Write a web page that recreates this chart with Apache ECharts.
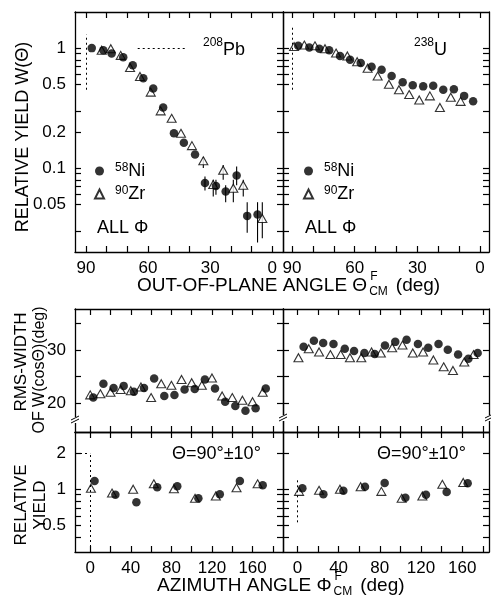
<!DOCTYPE html>
<html><head><meta charset="utf-8">
<script src="https://cdn.jsdelivr.net/npm/echarts@6/dist/echarts.min.js"></script>
<style>html,body{margin:0;padding:0;background:#fff}#c{width:491px;height:603px}</style>
</head><body><div id="c"></div>
<script>
// ---------- DATA ----------
// Top-left (208Pb): out-of-plane angle theta (deg) vs relative yield W
const thetaNiPb = [87.2,81.6,77.6,72.0,67.4,62.3,57.5,52.7,47.5,42.7,37.3,32.5,27.2,22.5,17.2,12.1,7.1];
const yieldNiPb = [1.00,0.96,0.90,0.84,0.72,0.56,0.46,0.32,0.195,0.163,0.13,0.075,0.071,0.064,0.087,0.040,0.041];
const errLoNiPb = [null,null,null,null,null,null,null,null,null,null,null,0.065,0.060,0.052,0.072,0.029,0.024];
const errHiNiPb = [null,null,null,null,null,null,null,null,null,null,null,0.085,0.080,0.072,0.103,0.052,0.052];
const thetaZrPb = [82.4,78.0,73.2,68.7,63.9,58.7,53.9,48.6,44.1,38.8,33.3,28.5,23.7,18.8,14.0,4.8];
const yieldZrPb = [0.96,0.99,0.87,0.69,0.58,0.43,0.30,0.26,0.195,0.154,0.115,0.073,0.096,0.068,0.072,0.038];
const errLoZrPb = [null,null,null,null,null,null,null,null,null,null,0.100,0.058,0.080,0.052,0.058,0.026];
const errHiZrPb = [null,null,null,null,null,null,null,null,null,null,0.124,0.080,0.106,0.080,0.080,0.052];
// Top-right (238U)
const thetaNiU = [87.0,81.7,76.9,72.2,67.0,62.2,57.1,51.9,47.1,42.3,37.0,32.2,27.2,22.4,17.6,12.5,7.6,3.3];
const yieldNiU = [1.045,1.01,0.99,0.96,0.86,0.80,0.75,0.70,0.66,0.585,0.52,0.49,0.48,0.485,0.45,0.455,0.40,0.36];
const thetaZrU = [89.0,84.1,79.0,74.2,68.9,63.5,58.8,53.8,49.0,43.6,38.8,33.9,29.1,24.0,19.2,14.0,9.3];
const yieldZrU = [1.03,1.06,1.045,0.99,0.91,0.86,0.77,0.68,0.585,0.50,0.45,0.41,0.37,0.40,0.32,0.39,0.36];
// Middle-left (208Pb): azimuth phi (deg) vs RMS width (deg)
const phiZrRmsPb = [0,10,20,30,40,50,60,70,80,90,100,110,120,130,140,150,160,170];
const rmsZrPb    = [21.5,21.7,22.0,22.5,22.3,23.0,21.0,23.6,23.3,24.4,23.8,23.3,24.7,21.3,21.0,20.5,20.2,22.0];
const phiNiRmsPb = [3,13,23,33,43,53,63,73,83,93,103,113,123,133,143,153,163,173];
const rmsNiPb    = [21.0,23.6,22.8,23.2,22.1,22.8,24.6,21.3,21.5,22.5,22.6,24.4,22.7,20.2,19.4,18.5,19.0,22.7];
// Middle-right (238U)
const phiZrRmsU = [1,11,21,32,42,51,62,72,81,92,102,112,122,132,142,151,162,171];
const rmsZrU    = [28.5,30.2,29.6,29.1,29.1,28.5,28.5,29.6,29.4,30.4,30.9,29.4,29.6,28.1,26.8,26.1,27.7,29.1];
const phiNiRmsU = [6,16,25,35,46,55,65,75,85,95,106,117,127,137,146,156,166,175];
const rmsNiU    = [30.6,31.7,31.3,31.1,30.2,29.8,29.4,29.2,30.8,31.5,31.9,31.1,30.4,31.1,30.0,29.1,28.3,29.4];
// Bottom-left (208Pb): azimuth phi vs relative yield, theta = 90 +- 10
const phiZrYPb = [0.7,21.5,42.3,62.7,82.5,103.3,123.8,144.2,165.0];
const relZrPb  = [1.02,0.93,1.00,1.11,1.01,0.84,0.88,1.03,1.11];
const phiNiYPb = [4.3,24.8,45.5,66.0,85.8,106.6,127.7,147.5,170.0];
const relNiPb  = [1.17,0.90,0.78,1.04,1.06,0.84,0.91,1.17,1.08];
// Bottom-right (238U)
const phiZrYU = [1.6,21.0,41.3,61.4,81.5,101.2,121.3,140.7,161.0];
const relZrU  = [0.96,0.98,1.00,1.05,0.96,0.84,0.88,1.10,1.14];
const phiNiYU = [4.8,25.2,44.6,65.6,84.7,104.8,124.8,144.9,165.3];
const relNiU  = [1.02,0.91,0.97,1.05,1.13,0.85,0.90,0.95,1.12];
// Axis ticks / labels
const thetaTicks = [0,10,20,30,40,50,60,70,80,90];
const thetaLabels = [0,30,60,90];
const yieldTicksTop = [0.03,0.05,0.06,0.07,0.08,0.09,0.1,0.2,0.3,0.5,0.6,0.7,0.8,0.9,1];
const yieldLabelsTop = [0.05,0.1,0.2,0.5,1];
const phiTicks = [0,20,40,60,80,100,120,140,160,180];
const phiLabels = [0,40,80,120,160];
const rmsTicks = [20,25,30,35];
const rmsLabels = [20,30];
const relTicks = [0.4,0.5,0.6,0.7,0.8,0.9,1,2];
const relLabels = [0.5,1,2];
// Dotted reference guides
const guidePbVert = [[90,0.45],[90,1.3]];
const guidePbHoriz = [[65,1],[41,1]];
const guideUVert = [[90,0.45],[90,1.5]];
const guidePbPhiVert = [[0,0.3],[0,2]];
const guidePbPhiHoriz = [[-15,2],[0,2]];
const guideUPhiVert = [[0,0.53],[0,1.25]];

// ---------- CHART ----------
const FONT = 'Liberation Sans';
const chart = echarts.init(document.getElementById('c'), null, {renderer:'canvas'});
const mctx = document.createElement('canvas').getContext('2d');
function textW(s, font){ mctx.font = font; return mctx.measureText(s).width; }

const grids = [
  {left:75, top:12, width:208, height:240},
  {left:283, top:12, width:206, height:240},
  {left:75, top:309, width:208, height:123},
  {left:283, top:309, width:206, height:123},
  {left:75, top:432, width:208, height:120},
  {left:283, top:432, width:206, height:120}
];
const xRanges = [[-5.2,95.3],[-4.3,94.3],[-15,190],[-14,186],[-15,190],[-14,186]];

const lineStyle = {color:'#000', width:1.3};
function fmtNum(v){ return String(Number(Number(v).toPrecision(3))); }

const xAxes = [], yAxes = [];
for (let g=0; g<6; g++){
  const top = g<2;
  const mid = g===2||g===3;
  const isLeft = g%2===0;
  const ticks = top ? thetaTicks : phiTicks;
  const labels = top ? thetaLabels : phiLabels;
  const showXLabel = top || g>=4;
  ['bottom','top'].forEach((pos,k)=>{
    xAxes.push({
      type:'value', gridIndex:g, position:pos, inverse:top,
      min:xRanges[g][0], max:xRanges[g][1],
      axisLine:{show:true, lineStyle, onZero:false},
      axisTick:{show:true, inside:true, length:6, lineStyle:{color:'#000',width:1.2}, customValues:ticks},
      axisLabel:{show:(k===0 && showXLabel), customValues:labels, color:'#000', fontSize:17, fontFamily:FONT, margin:8, formatter:fmtNum},
      splitLine:{show:false}
    });
  });
  let yType, yMin, yMax, yT, yL;
  if (top){ yType='log'; yMin=0.02; yMax=2; yT=yieldTicksTop; yL=yieldLabelsTop; }
  else if (mid){ yType='value'; yMin=14.5; yMax=37.7; yT=rmsTicks; yL=rmsLabels; }
  else { yType='log'; yMin=0.3; yMax=3; yT=relTicks; yL=relLabels; }
  ['left','right'].forEach((pos,k)=>{
    const a = {
      type:yType, gridIndex:g, position:pos, min:yMin, max:yMax,
      axisLine:{show:true, lineStyle, onZero:false},
      axisTick:{show:true, inside:true, length:6, lineStyle:{color:'#000',width:1.2}, customValues:yT},
      axisLabel:{show:(k===0 && isLeft), customValues:yL, color:'#000', fontSize:17, fontFamily:FONT, margin:9, formatter:fmtNum},
      splitLine:{show:false}
    };
    if (yType==='log') a.logBase = 10;
    yAxes.push(a);
  });
}

const NI = '58Ni', ZR = '90Zr';
function zip(a,b){ return a.map((v,i)=>[v,b[i]]); }
function ni(g, xs, ys){
  return {type:'scatter', name:NI, xAxisIndex:2*g, yAxisIndex:2*g, symbol:'circle', symbolSize:8.5,
    itemStyle:{color:'#000'}, data:zip(xs,ys), z:5};
}
function zr(g, xs, ys){
  return {type:'scatter', name:ZR, xAxisIndex:2*g, yAxisIndex:2*g, symbol:'triangle', symbolSize:[9,8],
    itemStyle:{color:'#fff', borderColor:'#000', borderWidth:1.1}, data:zip(xs,ys), z:4};
}
function errs(g, xs, lo, hi){
  const d = [];
  xs.forEach((x,i)=>{ if (lo[i]!=null) d.push([x, lo[i], hi[i]]); });
  return {type:'custom', xAxisIndex:2*g, yAxisIndex:2*g, z:3, silent:true,
    encode:{x:0, y:[1,2]}, data:d,
    renderItem:(params, api)=>{
      const p1 = api.coord([api.value(0), api.value(1)]);
      const p2 = api.coord([api.value(0), api.value(2)]);
      return {type:'line', shape:{x1:p1[0],y1:p1[1],x2:p2[0],y2:p2[1]}, style:{stroke:'#000', lineWidth:1.1}};
    }};
}
function guides(g, segs){
  return {type:'line', xAxisIndex:2*g, yAxisIndex:2*g, data:[], silent:true,
    markLine:{silent:true, symbol:'none', label:{show:false},
      lineStyle:{type:[2,3], color:'#000', width:1}, data:segs.map(s=>[{coord:s[0]},{coord:s[1]}])}};
}

const series = [
  guides(0, [guidePbVert, guidePbHoriz]),
  guides(1, [guideUVert]),
  guides(4, [guidePbPhiVert, guidePbPhiHoriz]),
  guides(5, [guideUPhiVert]),
  errs(0, thetaNiPb, errLoNiPb, errHiNiPb),
  errs(0, thetaZrPb, errLoZrPb, errHiZrPb),
  ni(0, thetaNiPb, yieldNiPb), zr(0, thetaZrPb, yieldZrPb),
  ni(1, thetaNiU, yieldNiU), zr(1, thetaZrU, yieldZrU),
  ni(2, phiNiRmsPb, rmsNiPb), zr(2, phiZrRmsPb, rmsZrPb),
  ni(3, phiNiRmsU, rmsNiU), zr(3, phiZrRmsU, rmsZrU),
  ni(4, phiNiYPb, relNiPb), zr(4, phiZrYPb, relZrPb),
  ni(5, phiNiYU, relNiU), zr(5, phiZrYU, relZrU)
];

const legendRich = {
  s:{fontSize:12, fontFamily:FONT, color:'#000', lineHeight:12, verticalAlign:'top', padding:[0,0,0,6]},
  n:{fontSize:18, fontFamily:FONT, color:'#000', lineHeight:18, verticalAlign:'bottom', padding:[5,0,0,0]}
};
function legendAt(left){
  return {left:left, top:157, padding:0, orient:'vertical', itemGap:0, itemWidth:9, itemHeight:9,
    selectedMode:false, data:[{name:NI, icon:'circle'},{name:ZR, icon:'triangle'}],
    formatter:(n)=>'{s|'+n.slice(0,2)+'}{n|'+n.slice(2)+'}', textStyle:{rich:legendRich}};
}

function txt(x,y,text,opt){
  return {type:'text', x:x, y:y, silent:true,
    style:Object.assign({text:text, fill:'#000', font:'17px '+FONT, textAlign:'left', textVerticalAlign:'middle'}, opt||{})};
}
function vtxt(x,y,text,size){
  return {type:'text', x:x, y:y, rotation:Math.PI/2, silent:true,
    style:{text:text, fill:'#000', font:size+'px '+FONT, textAlign:'center', textVerticalAlign:'middle'}};
}
function breakMark(x,y){
  return [
    {type:'rect', shape:{x:x-4,y:y-3,width:8,height:6}, style:{fill:'#fff'}, silent:true, z:100},
    {type:'line', shape:{x1:x-4,y1:y,x2:x+4,y2:y-4}, style:{stroke:'#000',lineWidth:1}, silent:true, z:101},
    {type:'line', shape:{x1:x-4,y1:y+3,x2:x+4,y2:y-1}, style:{stroke:'#000',lineWidth:1}, silent:true, z:101}
  ];
}
// axis title with stacked F / CM after the greek letter
function axisTitle(x, y, main){
  const f = '19px '+FONT;
  const end = x + textW(main, f);
  const cmW = textW('CM', '12px '+FONT);
  return [
    txt(x, y, main, {font:f}),
    txt(end+3, y-9, 'F', {font:'12px '+FONT}),
    txt(end+2, y+6, 'CM', {font:'12px '+FONT}),
    txt(end+2+cmW+8, y, '(deg)', {font:f})
  ];
}

const richSup = {s:{font:'12px '+FONT, padding:[0,0,8,0]}, n:{font:'18px '+FONT, padding:[6,0,0,0]}};
const graphic = [].concat(
  [
    txt(203,47,'{s|208}{n|Pb}',{rich:richSup}),
    txt(414,47,'{s|238}{n|U}',{rich:richSup}),
    txt(97,228,'ALL Φ',{font:'18px '+FONT}),
    txt(305,228,'ALL Φ',{font:'18px '+FONT}),
    txt(172,454,'Θ=90°±10°',{font:'18px '+FONT}),
    txt(377,454,'Θ=90°±10°',{font:'18px '+FONT}),
    vtxt(23,137,'RELATIVE YIELD W(Θ)',18),
    vtxt(21,362,'RMS-WIDTH',17),
    vtxt(40,370,'OF W(cosΘ)(deg)',16),
    vtxt(21,505,'RELATIVE',17),
    vtxt(40,505,'YIELD',17)
  ],
  axisTitle(137, 286, 'OUT-OF-PLANE ANGLE Θ'),
  axisTitle(157, 586, 'AZIMUTH ANGLE Φ'),
  breakMark(75,420), breakMark(283,418), breakMark(489,418)
);

chart.setOption({
  backgroundColor:'#fff',
  animation:false,
  grid:grids,
  xAxis:xAxes,
  yAxis:yAxes,
  legend:[legendAt(94), legendAt(303)],
  series:series,
  graphic:graphic
});
</script></body></html>
